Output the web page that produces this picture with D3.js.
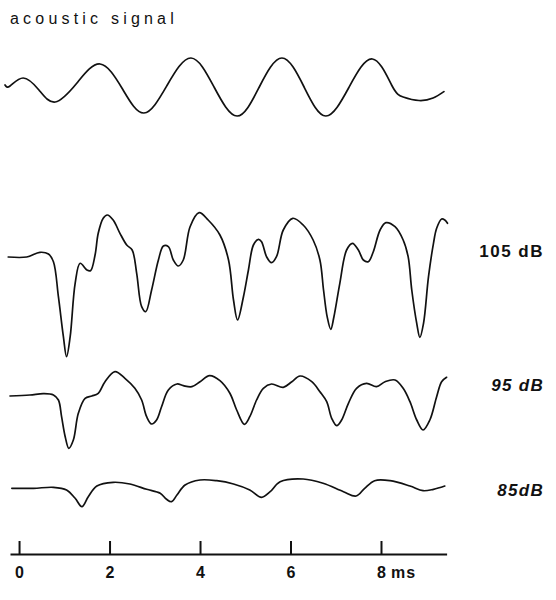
<!DOCTYPE html>
<html><head><meta charset="utf-8">
<script src="https://cdn.jsdelivr.net/npm/d3@7"></script>
<style>body{margin:0;background:#fff}svg{display:block}</style>
</head><body>
<svg id="c" width="556" height="600"></svg>
<script>
// ---- data (time in ms, amplitude in arbitrary units) ----
const acousticT = [-0.31,-0.2,0.09,0.44,0.80,1.28,1.79,2.28,2.76,3.27,3.80,4.31,4.82,5.31,5.81,6.30,6.78,7.29,7.81,8.24,8.49,8.84,9.15,9.39];
const acousticA = [0,-1,7,-5,-17,2,21,-3.5,-28,-0.5,27,-2,-31,-2,27,-2,-31,-2.5,26,-0.5,-12,-15.5,-13,-6.6];

const db105T = [-0.24,0.17,0.46,0.65,0.76,0.87,0.98,1.05,1.13,1.24,1.35,1.50,1.58,1.68,1.75,1.86,1.95,2.08,2.23,2.38,2.50,2.60,2.71,2.80,2.93,3.08,3.19,3.30,3.41,3.52,3.63,3.78,3.98,4.18,4.44,4.63,4.74,4.83,4.96,5.07,5.18,5.29,5.36,5.47,5.58,5.69,5.84,6.05,6.28,6.50,6.65,6.73,6.81,6.89,6.96,7.09,7.24,7.37,7.50,7.61,7.72,7.83,7.98,8.11,8.31,8.49,8.60,8.68,8.79,8.86,8.94,9.05,9.16,9.23,9.34,9.41,9.47];
const db105A = [0,0,4.7,3,-4.7,-39.7,-79.7,-99.7,-79.7,-26.3,-6.3,-13,-13.7,2,23.7,38.7,42,37,23.7,12,7,-16.3,-49.7,-54.7,-33,-3,11,10.3,-3,-9,-3,30.3,44.3,37,22,-3,-43,-63,-39.7,-13,12,17.7,15.3,0.3,-5.7,0.3,27,38.7,32,17,-3,-33,-59.7,-72.3,-59.7,-26.3,7,13.7,7,-3,-4.7,5.3,27,34.3,30.3,17,0.3,-33,-66.3,-80.3,-66.3,-19.7,13.7,28.7,38,37,33.7];

const db95T = [-0.20,0.24,0.54,0.76,0.87,0.94,1.02,1.10,1.20,1.31,1.46,1.61,1.75,1.90,2.12,2.34,2.56,2.71,2.82,2.93,3.04,3.15,3.30,3.49,3.63,3.82,4.00,4.21,4.44,4.66,4.81,4.98,5.10,5.25,5.40,5.58,5.84,6.03,6.21,6.47,6.65,6.80,6.91,7.02,7.13,7.28,7.46,7.68,7.90,8.09,8.31,8.49,8.64,8.79,8.93,9.08,9.23,9.34,9.45];
const db95A = [-1,0,1.3,0,-5,-21.7,-41.7,-53.3,-45,-18.3,-3.3,-1,1.7,13.3,23.3,16.7,6.7,-5,-21.7,-29,-25,-11.7,5,11,9.3,8.3,13.3,19.3,14.3,1.7,-15,-29.3,-21.7,-5,6.7,11,7.7,13.3,19,13.3,3.3,-6.7,-23.3,-30.7,-25,-8.3,6.7,11.7,8.3,13.3,15,6.7,-6.7,-25,-35,-25,-1.7,13.3,17.7];

const db85T = [-0.16,0.32,0.76,1.05,1.24,1.39,1.53,1.72,2.08,2.45,2.82,3.12,3.26,3.37,3.49,3.67,4.00,4.37,4.74,5.10,5.36,5.55,5.77,6.28,6.72,7.17,7.45,7.64,7.86,8.20,8.64,8.93,9.16,9.41];
const db85A = [-0.3,-0.3,0.7,-2,-10.3,-18.7,-8.7,2,5.7,4,-1.3,-5.3,-11.3,-13.7,-7,3,8,7.3,4,-2,-9.3,-3.7,6.3,9,4.7,-3.7,-8,-0.3,7.3,7.3,2,-2.7,-1.3,2];

const traceNames = ["acoustic signal","105 dB","95 dB","85dB"];
const tickValues = [0,2,4,6,8];
const tickLabels = ["0","2","4","6","8"];
const unitLabel = "ms";

// ---- layout ----
const FONT = "Liberation Sans, Arial, Helvetica, sans-serif";
const svg = d3.select("#c");
svg.append("rect").attr("width",556).attr("height",600).attr("fill","#fff");

const x = d3.scaleLinear().domain([-0.2, 9.45]).range([10, 446.6]);
const baselines = [85, 257, 395, 488];
const series = [
  {t: acousticT, a: acousticA, curve: d3.curveNatural},
  {t: db105T, a: db105A, curve: d3.curveCatmullRom.alpha(0.5)},
  {t: db95T, a: db95A, curve: d3.curveCatmullRom.alpha(0.5)},
  {t: db85T, a: db85A, curve: d3.curveCatmullRom.alpha(0.5)}
];

series.forEach((s, i) => {
  const y = d3.scaleLinear().domain([0, 100]).range([baselines[i], baselines[i] - 100]);
  const pts = s.t.map((t, j) => [t, s.a[j]]);
  const line = d3.line().x(d => x(d[0])).y(d => y(d[1])).curve(s.curve);
  svg.append("path").datum(pts).attr("d", line)
    .attr("fill","none").attr("stroke","#111").attr("stroke-width",1.7)
    .attr("stroke-linejoin","round").attr("stroke-linecap","round");
});

// title label
svg.append("text").attr("x",10).attr("y",24)
  .attr("font-family",FONT)
  .attr("font-size",16).attr("letter-spacing","4.2px").attr("fill","#111")
  .text(traceNames[0]);

// right labels
const labelY = [null, 257, 391, 496];
const labelX = [null, 544, 544, 544];
const labelStyle = [null, "normal", "italic", "italic"];
const labelSpacing = [null, "1.5px", "1.3px", "1.3px"];
for (let i = 1; i < 4; i++) {
  svg.append("text").attr("x",labelX[i]).attr("y",labelY[i])
    .attr("text-anchor","end")
    .attr("font-family",FONT)
    .attr("font-size",17).attr("font-weight","bold").attr("font-style",labelStyle[i])
    .attr("letter-spacing",labelSpacing[i])
    .attr("fill","#111")
    .text(traceNames[i]);
}

// axis
const axisY = 554;
const axis = d3.axisBottom(x).tickValues(tickValues)
  .tickFormat((d,i) => tickLabels[i]).tickSizeInner(-13).tickSizeOuter(0).tickPadding(13);
const g = svg.append("g").attr("transform",`translate(0,${axisY})`).call(axis);
g.select(".domain").attr("stroke","#111").attr("stroke-width",2);
g.selectAll(".tick line").attr("stroke","#111").attr("stroke-width",2);
g.selectAll(".tick text").attr("font-family",FONT)
  .attr("font-size",16).attr("font-weight","bold").attr("fill","#111");
svg.append("text").attr("x", x(8) + 10).attr("y", axisY + 13).attr("dy","0.71em")
  .attr("font-family",FONT)
  .attr("font-size",16).attr("font-weight","bold").attr("fill","#111")
  .attr("letter-spacing","1px")
  .text(unitLabel);
</script>
</body></html>
